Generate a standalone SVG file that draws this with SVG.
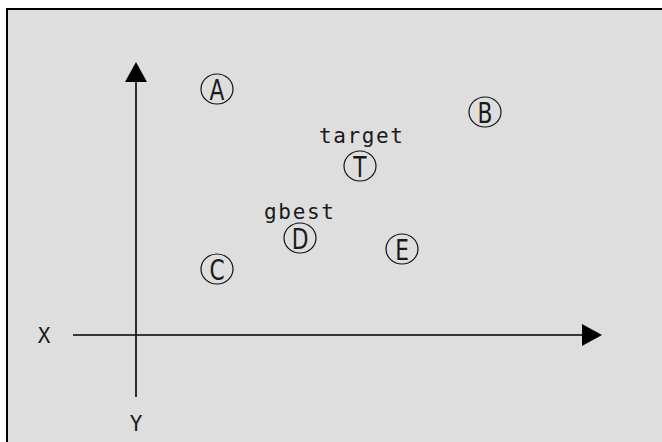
<svg xmlns="http://www.w3.org/2000/svg" width="662" height="442" viewBox="0 0 662 442">
<defs>
<style>
.node ellipse{fill:none;stroke:#111;stroke-width:1.2}
.lt{font-family:"DejaVu Sans","Liberation Sans",sans-serif;font-size:29px;fill:#1a1a1a;text-anchor:middle}
.lbl{font-family:"DejaVu Sans Mono","Liberation Mono",monospace;font-size:21px;fill:#1a1a1a;text-anchor:middle}
.ax{stroke:#000;stroke-width:1.6;fill:none}
</style>
<marker id="ah" markerWidth="20" markerHeight="22" refX="0" refY="11" orient="auto" markerUnits="userSpaceOnUse">
<path d="M0,0 L20,11 L0,22 Z" fill="#000"/>
</marker>
</defs>
<rect x="0" y="0" width="662" height="442" fill="#fff"/>
<rect x="7" y="9" width="656" height="434" fill="#dedede" stroke="#000" stroke-width="2"/>
<g id="connectors">
<line class="ax" x1="73" y1="335" x2="582" y2="335" marker-end="url(#ah)"/>
<line class="ax" x1="136" y1="397" x2="136" y2="82" marker-end="url(#ah)"/>
</g>
<g id="axis-labels">
<text class="lbl" x="44" y="343">X</text>
<text class="lbl" x="136" y="431">Y</text>
</g>
<g id="A" class="node"><ellipse cx="217" cy="89" rx="16" ry="15"/><text class="lt" transform="translate(217,89) scale(0.75,1)" y="10.5">A</text></g>
<g id="B" class="node"><ellipse cx="485" cy="112" rx="16" ry="15"/><text class="lt" transform="translate(485,112) scale(0.75,1)" y="10.5">B</text></g>
<g id="T" class="node"><ellipse cx="360" cy="166" rx="16" ry="15"/><text class="lt" transform="translate(360,166) scale(0.75,1)" y="10.5">T</text><text class="lbl" x="361" y="143" textLength="84">target</text></g>
<g id="D" class="node"><ellipse cx="300" cy="238" rx="16" ry="15"/><text class="lt" transform="translate(300,238) scale(0.75,1)" y="10.5">D</text><text class="lbl" x="299" y="219" textLength="70">gbest</text></g>
<g id="C" class="node"><ellipse cx="217" cy="269" rx="16" ry="15"/><text class="lt" transform="translate(217,269) scale(0.75,1)" y="10.5">C</text></g>
<g id="E" class="node"><ellipse cx="402" cy="249" rx="16" ry="15"/><text class="lt" transform="translate(402,249) scale(0.75,1)" y="10.5">E</text></g>
</svg>
